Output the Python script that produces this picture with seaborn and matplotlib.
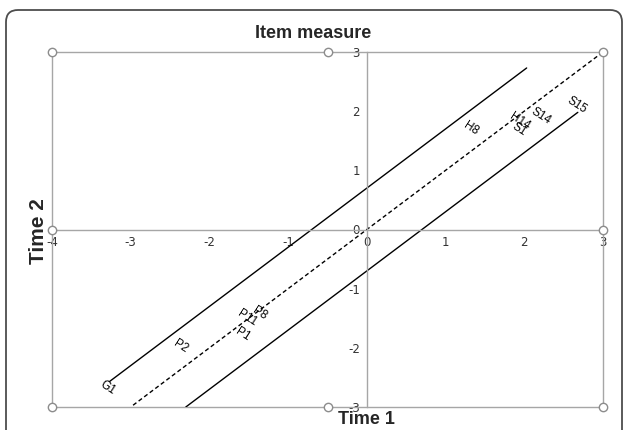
import matplotlib
matplotlib.use("Agg")
import matplotlib.pyplot as plt
import matplotlib.patches as mpatches
import matplotlib.transforms as mtransforms
import seaborn as sns
import pandas as pd

sns.set_theme(style="white")
plt.rcParams["font.family"] = ["Liberation Sans", "DejaVu Sans"]
plt.rcParams["axes.unicode_minus"] = False

# =========================
# Data
# =========================
item_labels = ["G1", "P2", "P11", "P8", "P1", "H8", "H14", "S14", "S1", "S15"]
time1 = [-3.29, -2.36, -1.52, -1.36, -1.58, 1.32, 1.94, 2.21, 1.93, 2.67]
time2 = [-2.68, -1.97, -1.50, -1.41, -1.77, 1.70, 1.83, 1.92, 1.70, 2.10]

identity_x = [-2.97, 3.0]
identity_y = [-2.97, 3.0]
upper_x = [-3.27, 2.03]
upper_y = [-2.57, 2.73]
lower_x = [-2.30, 2.68]
lower_y = [-3.00, 1.98]

x_ticks = [-4, -3, -2, -1, 0, 1, 2, 3]
y_ticks = [-3, -2, -1, 0, 1, 2, 3]

grey = "#a6a6a6"

# =========================
# Figure
# =========================
fig = plt.figure(figsize=(6.27, 4.30), dpi=100)
ax = fig.add_axes([52 / 627, 1 - 407 / 430, 551 / 627, 355 / 430])

sns.lineplot(x=upper_x, y=upper_y, ax=ax, color="black", lw=1.0)
sns.lineplot(x=lower_x, y=lower_y, ax=ax, color="black", lw=1.0)
sns.lineplot(x=identity_x, y=identity_y, ax=ax, color="black", lw=1.0,
             linestyle=(0, (3, 2)))

pts = pd.DataFrame({"label": item_labels, "t1": time1, "t2": time2})
for _, r in pts.iterrows():
    ax.text(r["t1"], r["t2"], r["label"], rotation=-33, fontsize=8.5,
            ha="center", va="center", color="black", rotation_mode="anchor")

ax.set_xlim(-4, 3)
ax.set_ylim(-3, 3)
ax.set_xticks(x_ticks)
ax.set_yticks(y_ticks)

# axes crossing at the origin
ax.spines["left"].set_position(("data", 0))
ax.spines["bottom"].set_position(("data", 0))
ax.spines["top"].set_visible(False)
ax.spines["right"].set_visible(False)
for s in ["left", "bottom"]:
    ax.spines[s].set_color(grey)
    ax.spines[s].set_linewidth(1.0)
ax.tick_params(direction="inout", length=6, width=0.8, color=grey,
               labelsize=8.5, labelcolor="#333333", pad=2)
for lab in ax.get_xticklabels() + ax.get_yticklabels():
    lab.set_family("DejaVu Sans")

# plot-area frame with selection handles
ax.add_patch(mpatches.Rectangle((0, 0), 1, 1, transform=ax.transAxes,
                                fill=False, ec=grey, lw=1.0, clip_on=False))
hx = [0, 0.5, 1, 0, 1, 0, 0.5, 1]
hy = [1, 1, 1, 0.5, 0.5, 0, 0, 0]
ax.plot(hx, hy, "o", transform=ax.transAxes, ms=6, mfc="white",
        mec="#8c8c8c", mew=1.0, clip_on=False, zorder=5)

# titles
fig.text(0.5, 1 - 33 / 430, "Item measure", ha="center", va="center",
         fontsize=13, fontweight="bold")
fig.text(366 / 627, 1 - 419 / 430, "Time 1", ha="center", va="center",
         fontsize=13, fontweight="bold")
fig.text(38 / 627, 1 - 231 / 430, "Time 2", ha="center", va="center",
         fontsize=15, fontweight="bold", rotation=90)

# outer rounded border
border = mpatches.FancyBboxPatch((6, -30), 616, 450,
                                 boxstyle="round,pad=0,rounding_size=12",
                                 transform=mtransforms.IdentityTransform(),
                                 fill=False, ec="#4d4d4d", lw=1.3)
fig.add_artist(border)

fig.savefig("out.png", dpi=100)
